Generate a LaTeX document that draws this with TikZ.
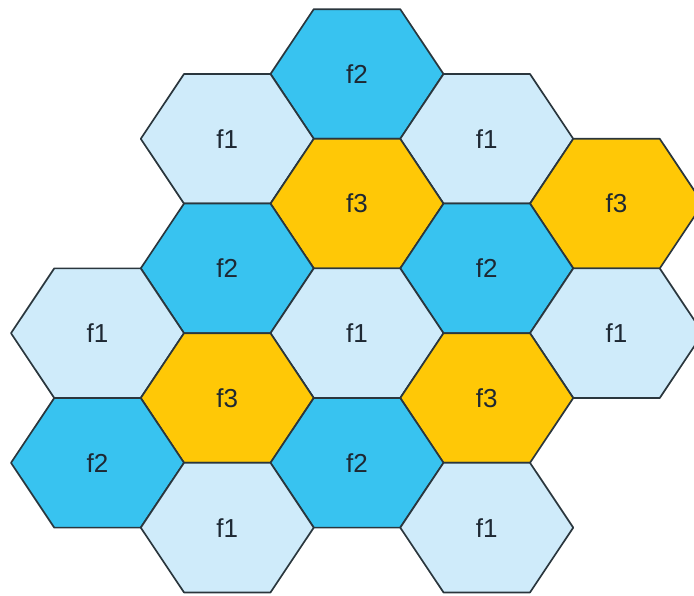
\documentclass[tikz,border=0pt]{standalone}
\usepackage{fontspec}
\setmainfont{Liberation Sans}
\definecolor{darkcell}{HTML}{38C3F0}
\definecolor{lightcell}{HTML}{CFEBFA}
\definecolor{yellowcell}{HTML}{FFC806}
\definecolor{edgegray}{HTML}{2A363D}
\definecolor{labelgray}{HTML}{1E2833}
\begin{document}
\begin{tikzpicture}[x=1pt,y=-1pt,
    hexcell/.style={draw=edgegray, line width=1.7pt, line join=round},
    celllabel/.style={text=labelgray, font=\fontsize{26}{26}\selectfont}]
    \useasboundingbox (0,0) rectangle (694,596);
    \foreach \c/\r/\f/\t in {2/0/darkcell/f2, 1/1/lightcell/f1, 3/1/lightcell/f1,
        2/2/yellowcell/f3, 4/2/yellowcell/f3, 1/3/darkcell/f2, 3/3/darkcell/f2,
        0/4/lightcell/f1, 2/4/lightcell/f1, 4/4/lightcell/f1,
        1/5/yellowcell/f3, 3/5/yellowcell/f3, 0/6/darkcell/f2, 2/6/darkcell/f2,
        1/7/lightcell/f1, 3/7/lightcell/f1}{
        \draw[hexcell, fill=\f] ({97.5+129.75*\c},{74+64.8*\r}) ++(-86.5,0)
            -- ++(43.25,-64.8) -- ++(86.5,0) -- ++(43.25,64.8)
            -- ++(-43.25,64.8) -- ++(-86.5,0) -- cycle;
        \node[celllabel] (h\c\r) at ({97.5+129.75*\c},{74+64.8*\r}) {\t};
    }
\end{tikzpicture}
\end{document}
